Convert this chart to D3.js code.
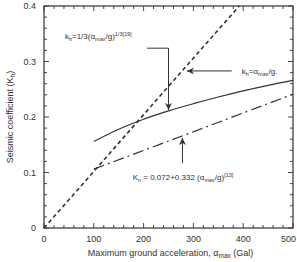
<!DOCTYPE html>
<html>
<head>
<meta charset="utf-8">
<script src="https://cdn.jsdelivr.net/npm/d3@7"></script>
<style>
  body { margin: 0; background: #fff; }
  text { font-family: "Liberation Sans", Arial, sans-serif; fill: #333; }
</style>
</head>
<body>
<svg id="chart" width="297" height="262"></svg>
<script>
// values (acceleration in Gal, coefficient)
const xTicks = [0, 100, 200, 300, 400, 500];
const yTicks = [0, 0.1, 0.2, 0.3, 0.4];

const dashedAcc  = [0, 392];
const dashedK    = [0, 0.4];

const solidAcc   = [100, 150, 200, 250, 300, 350, 400, 450, 500];
const solidK     = [0.156, 0.178, 0.196, 0.211, 0.224, 0.236, 0.247, 0.257, 0.266];

const dashDotAcc = [100, 500];
const dashDotK   = [0.106, 0.241];

const svg    = d3.select("#chart"),
      margin = {top: 6, right: 4, bottom: 34, left: 44},
      width  = +svg.attr("width")  - margin.left - margin.right,
      height = +svg.attr("height") - margin.top  - margin.bottom,
      x      = d3.scaleLinear().domain([0, 500]).range([0, width]),
      y      = d3.scaleLinear().domain([0, 0.4]).range([height, 0]),
      g      = svg.append("g")
                  .attr("transform", `translate(${margin.left},${margin.top})`);

const ink = "#333";

// frame
g.append("rect")
  .attr("width", width).attr("height", height)
  .attr("fill", "none").attr("stroke", ink).attr("stroke-width", 1.2);

// minor ticks, all four sides, pointing in
const xMinor = d3.range(0, 501, 20);
const yMinor = d3.range(0, 0.4001, 0.02);
const tk = g.append("g").attr("stroke", ink).attr("stroke-width", 0.9);
xMinor.forEach(v => {
  const len = v % 100 === 0 ? 5 : 3;
  tk.append("line").attr("x1", x(v)).attr("x2", x(v)).attr("y1", height).attr("y2", height - len);
  tk.append("line").attr("x1", x(v)).attr("x2", x(v)).attr("y1", 0).attr("y2", len);
});
yMinor.forEach(v => {
  const len = Math.round(v * 100) % 10 === 0 ? 5 : 3;
  tk.append("line").attr("y1", y(v)).attr("y2", y(v)).attr("x1", 0).attr("x2", len);
  tk.append("line").attr("y1", y(v)).attr("y2", y(v)).attr("x1", width).attr("x2", width - len);
});

// tick labels (last one pulled in so it stays inside the window)
g.append("g").selectAll("text").data(xTicks).enter().append("text")
  .attr("x", d => d === 500 ? x(d) + 3 : x(d)).attr("y", height + 14)
  .attr("text-anchor", d => d === 500 ? "end" : "middle").style("font-size", "9px")
  .text(d => d);

g.append("g").selectAll("text").data(yTicks).enter().append("text")
  .attr("x", -8).attr("y", d => y(d) + 3)
  .attr("text-anchor", "end").style("font-size", "9px")
  .text(d => d === 0 ? "0" : d.toFixed(1));

// axis titles
const xt = g.append("text")
  .attr("x", width / 2 + 2).attr("y", height + 28)
  .attr("text-anchor", "middle").style("font-size", "9px");
xt.append("tspan").text("Maximum ground acceleration, \u03b1");
xt.append("tspan").attr("dy", 2).style("font-size", "6.5px").text("max");
xt.append("tspan").attr("dy", -2).text(" (Gal)");

const yt = g.append("text")
  .attr("transform", `translate(${-31},${height / 2}) rotate(-90)`)
  .attr("text-anchor", "middle").style("font-size", "9px");
yt.append("tspan").text("Seismic coefficient (K");
yt.append("tspan").attr("dy", 2).style("font-size", "6.5px").text("h");
yt.append("tspan").attr("dy", -2).text(")");

// curves
const line = d3.line().x(d => x(d[0])).y(d => y(d[1]));

g.append("path")
  .datum(d3.zip(dashedAcc, dashedK))
  .attr("d", line).attr("fill", "none")
  .attr("stroke", ink).attr("stroke-width", 1.6)
  .attr("stroke-dasharray", "4,3");

g.append("path")
  .datum(d3.zip(solidAcc, solidK))
  .attr("d", d3.line().curve(d3.curveMonotoneX).x(d => x(d[0])).y(d => y(d[1])))
  .attr("fill", "none").attr("stroke", ink).attr("stroke-width", 1.2);

g.append("path")
  .datum(d3.zip(dashDotAcc, dashDotK))
  .attr("d", line).attr("fill", "none")
  .attr("stroke", ink).attr("stroke-width", 1.2)
  .attr("stroke-dasharray", "11,4,2,4");

// arrowheads
svg.append("defs").append("marker")
  .attr("id", "arr").attr("viewBox", "0 0 10 10")
  .attr("refX", 10).attr("refY", 5)
  .attr("markerWidth", 7).attr("markerHeight", 7)
  .attr("orient", "auto")
  .append("path").attr("d", "M0,0 L10,5 L0,10 L3,5 Z").attr("fill", ink);

// annotation: 1/3 power curve
const a1 = g.append("text").attr("x", x(42)).attr("y", y(0.3) - 23).style("font-size", "8px");
a1.append("tspan").text("k");
a1.append("tspan").attr("dy", 2).style("font-size", "5.5px").text("h");
a1.append("tspan").attr("dy", -2).text("=1/3(\u03b1");
a1.append("tspan").attr("dy", 2).style("font-size", "5.5px").text("max");
a1.append("tspan").attr("dy", -2).text("/g)");
a1.append("tspan").attr("dy", -3).style("font-size", "5.5px").text("1/3[19]");

g.append("path")
  .attr("d", `M${x(207)},${y(0.324)} H${x(250)} V${y(0.211) - 1}`)
  .attr("fill", "none").attr("stroke", ink).attr("stroke-width", 1)
  .attr("marker-end", "url(#arr)");

// annotation: dashed line
const a2 = g.append("text").attr("x", x(397)).attr("y", y(0.283) + 3).style("font-size", "8px");
a2.append("tspan").text("k");
a2.append("tspan").attr("dy", 2).style("font-size", "5.5px").text("h");
a2.append("tspan").attr("dy", -2).text("=\u03b1");
a2.append("tspan").attr("dy", 2).style("font-size", "5.5px").text("max");
a2.append("tspan").attr("dy", -2).text("/g.");

g.append("line")
  .attr("x1", x(377)).attr("x2", x(287))
  .attr("y1", y(0.283)).attr("y2", y(0.283))
  .attr("stroke", ink).attr("stroke-width", 1)
  .attr("marker-end", "url(#arr)");

// annotation: dash-dot line
const a3 = g.append("text").attr("x", x(178)).attr("y", y(0.086)).style("font-size", "8px");
a3.append("tspan").text("K");
a3.append("tspan").attr("dy", 2).style("font-size", "5.5px").text("n");
a3.append("tspan").attr("dy", -2).text(" = 0.072+0.332 (\u03b1");
a3.append("tspan").attr("dy", 2).style("font-size", "5.5px").text("max");
a3.append("tspan").attr("dy", -2).text("/g)");
a3.append("tspan").attr("dy", -3).style("font-size", "5.5px").text("[13]");

g.append("line")
  .attr("x1", x(278)).attr("x2", x(278))
  .attr("y1", y(0.117)).attr("y2", y(0.164) + 1)
  .attr("stroke", ink).attr("stroke-width", 1)
  .attr("marker-end", "url(#arr)");
</script>
</body>
</html>
